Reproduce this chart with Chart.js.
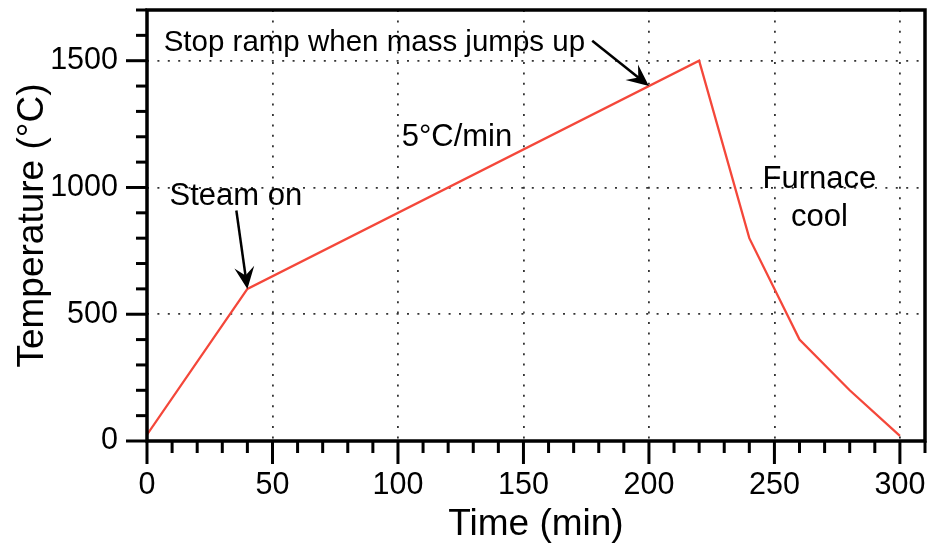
<!DOCTYPE html>
<html>
<head>
<meta charset="utf-8">
<script src="https://cdn.jsdelivr.net/npm/chart.js@4/dist/chart.umd.min.js"></script>
<style>
  html, body { margin: 0; padding: 0; background: #fff; }
</style>
</head>
<body>
<canvas id="temp_chart" width="938" height="547"></canvas>
<script>
// furnace program
const timeMin = [0, 40, 220, 240, 260, 280, 300];
const tempC = [25, 600, 1500, 800, 400, 200, 20];

const xTickStep = 10, xLabelStep = 50;
const yTickStep = 100, yLabelStep = 500;

const notes = [
  { text: "Stop ramp when mass jumps up", x: 90.6, y: 1539, size: 29.5 },
  { text: "5°C/min", x: 123.5, y: 1165, size: 31 },
  { text: "Steam on", x: 35.4, y: 929, size: 31 },
  { text: "Furnace", x: 267.9, y: 996, size: 31 },
  { text: "cool", x: 267.9, y: 850, size: 31 },
];
// arrow from (x0,y0) to tip (x1,y1), data units
const arrows = [
  { x0: 35.6, y0: 909, x1: 40, y1: 600 },
  { x0: 177.4, y0: 1579, x1: 200, y1: 1400 },
];

const FONT = "'Liberation Sans', Arial, Helvetica, sans-serif";

const drawArrow = (ctx, ax, ay, bx, by) => {
  let dx = bx - ax, dy = by - ay,
    len = Math.hypot(dx, dy);
  dx /= len; dy /= len;
  const nx = -dy, ny = dx, L = 22, W = 10;
  ctx.beginPath();
  ctx.moveTo(ax, ay);
  ctx.lineTo(bx - dx * L * 0.6, by - dy * L * 0.6);
  ctx.stroke();
  ctx.beginPath();
  ctx.moveTo(bx, by);
  ctx.lineTo(bx - dx * L + nx * W, by - dy * L + ny * W);
  ctx.lineTo(bx - dx * L * 0.62, by - dy * L * 0.62);
  ctx.lineTo(bx - dx * L - nx * W, by - dy * L - ny * W);
  ctx.closePath();
  ctx.fill();
};

const framePlugin = {
  id: "frame",
  afterDraw(chart) {
    const { ctx, chartArea: a, scales: { x, y } } = chart;
    ctx.save();
    ctx.strokeStyle = "#000";
    ctx.fillStyle = "#000";
    ctx.lineWidth = 3;
    ctx.lineCap = "butt";
    // tick marks
    x.ticks.forEach((t) => {
      const px = x.getPixelForValue(t.value),
        len = t.value % xLabelStep === 0 ? 23 : 12;
      ctx.beginPath();
      ctx.moveTo(px, a.bottom);
      ctx.lineTo(px, a.bottom + len);
      ctx.stroke();
    });
    y.ticks.forEach((t) => {
      const py = y.getPixelForValue(t.value),
        len = t.value % yLabelStep === 0 ? 21 : 11;
      ctx.beginPath();
      ctx.moveTo(a.left, py);
      ctx.lineTo(a.left - len, py);
      ctx.stroke();
    });
    // box
    ctx.lineWidth = 3.5;
    ctx.strokeRect(a.left, a.top, a.right - a.left, a.bottom - a.top);

    // notes
    ctx.textAlign = "center";
    ctx.textBaseline = "alphabetic";
    notes.forEach((n) => {
      ctx.font = `${n.size}px ${FONT}`;
      ctx.fillText(n.text, x.getPixelForValue(n.x), y.getPixelForValue(n.y));
    });
    ctx.lineWidth = 2.5;
    arrows.forEach((r) => {
      drawArrow(ctx,
        x.getPixelForValue(r.x0), y.getPixelForValue(r.y0),
        x.getPixelForValue(r.x1), y.getPixelForValue(r.y1));
    });
    ctx.restore();
  },
};

const dotted = [2, 8.4];

new Chart(document.querySelector("#temp_chart"), {
  type: "line",
  data: {
    labels: timeMin,
    datasets: [
      {
        data: timeMin.map((t, i) => ({ x: t, y: tempC[i] })),
        borderColor: "#f4473a",
        borderWidth: 2.3,
        pointRadius: 0,
        tension: 0,
        fill: false,
      },
    ],
  },
  options: {
    responsive: false,
    animation: false,
    layout: { autoPadding: false, padding: { top: 10, right: 13, left: 0, bottom: 0 } },
    plugins: { legend: { display: false }, tooltip: { enabled: false } },
    scales: {
      x: {
        type: "linear",
        min: 0,
        max: 310,
        afterFit: (s) => {
          s.height = 106;
          s.paddingLeft = 0;
          s.paddingRight = 0;
        },
        grid: {
          drawTicks: false,
          lineWidth: 1.8,
          color: (c) =>
            c.tick && c.tick.value > 0 && c.tick.value % xLabelStep === 0 ? "#333" : "transparent",
        },
        border: { display: false, dash: dotted },
        ticks: {
          stepSize: xTickStep,
          autoSkip: false,
          maxRotation: 0,
          padding: 26,
          color: "#000",
          font: { family: FONT, size: 30.5 },
          callback: (v) => (v % xLabelStep === 0 ? v : ""),
        },
        title: {
          display: true,
          text: "Time (min)",
          color: "#000",
          font: { family: FONT, size: 37 },
          padding: { top: 0, bottom: 0 },
        },
      },
      y: {
        min: 0,
        max: 1700,
        afterFit: (s) => {
          s.width = 147;
          s.paddingTop = 0;
          s.paddingBottom = 0;
        },
        grid: {
          drawTicks: false,
          lineWidth: 1.8,
          color: (c) =>
            c.tick && c.tick.value > 0 && c.tick.value % yLabelStep === 0 ? "#333" : "transparent",
        },
        border: { display: false, dash: dotted },
        ticks: {
          stepSize: yTickStep,
          autoSkip: false,
          padding: 29,
          color: "#000",
          font: { family: FONT, size: 30.5 },
          callback: (v) => (v % yLabelStep === 0 ? v : ""),
        },
        title: {
          display: true,
          text: "Temperature (°C)",
          color: "#000",
          font: { family: FONT, size: 37 },
          padding: { top: 11, bottom: 0 },
        },
      },
    },
  },
  plugins: [framePlugin],
});
</script>
</body>
</html>
